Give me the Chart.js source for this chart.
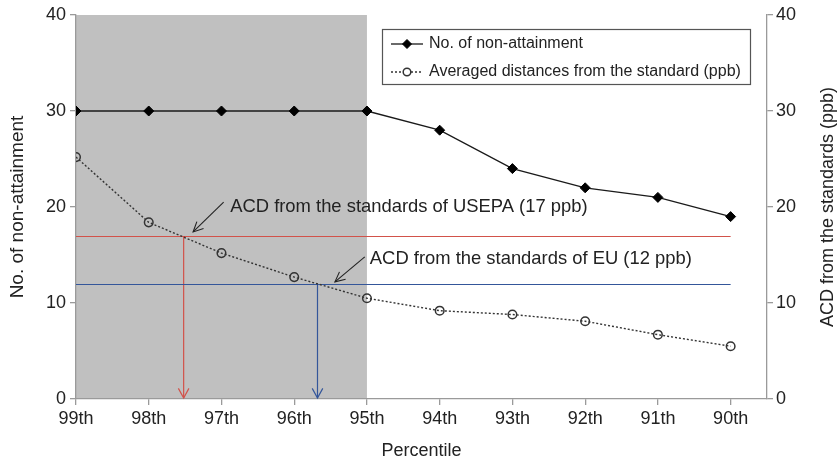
<!DOCTYPE html>
<html>
<head>
<meta charset="utf-8">
<script src="https://cdn.jsdelivr.net/npm/chart.js@4/dist/chart.umd.min.js"></script>
<style>
  html, body { margin: 0; padding: 0; background: #fff; }
  #wrap { width: 837px; height: 462px; }
</style>
</head>
<body>
<div id="wrap"><canvas id="c" width="837" height="462"></canvas></div>
<script>
// Percentile categories (left to right)
const percentiles = ['99th', '98th', '97th', '96th', '95th', '94th', '93th', '92th', '91th', '90th'];
// Number of non-attainment sites
const nonAttainment = [30, 30, 30, 30, 30, 28, 24, 22, 21, 19];
// Averaged concentration distance from the standard (ppb)
const avgDistance = [25.2, 18.4, 15.2, 12.7, 10.5, 9.2, 8.8, 8.1, 6.7, 5.5];
// Reference standards (ppb) and where the distance curve crosses them
const standardNames = ['USEPA', 'EU'];
const standardValues = [17, 12];
const standardCrossings = [1.48, 3.32];
const standardColors = ['#d2524a', '#34569a'];
// Shaded percentile range (index span)
const shadedRange = [0, 4];
// Axis ticks
const yTicks = [0, 10, 20, 30, 40];

const FONT = '"Liberation Sans", Arial, Helvetica, sans-serif';
const TEXT = '#222';
const AXIS = '#9a9a9a';

// Annotation callouts: text anchor and arrow from/to, in data units
const notes = [
  { text: 'ACD from the standards of USEPA (17 ppb)', tx: 2.12, ty: 20.0, ax: 2.03, ay: 20.5, bx: 1.61, by: 17.4 },
  { text: 'ACD from the standards of EU (12 ppb)',   tx: 4.04, ty: 14.6, ax: 3.97, ay: 14.8, bx: 3.56, by: 12.2 }
];

function openHead(ctx, x0, y0, x1, y1, len, spread) {
  const a = Math.atan2(y1 - y0, x1 - x0);
  ctx.beginPath();
  ctx.moveTo(x1 - len * Math.cos(a - spread), y1 - len * Math.sin(a - spread));
  ctx.lineTo(x1, y1);
  ctx.lineTo(x1 - len * Math.cos(a + spread), y1 - len * Math.sin(a + spread));
  ctx.stroke();
}

const decor = {
  id: 'decor',
  beforeDraw(chart) {
    const { ctx, chartArea: a, scales: { x } } = chart;
    ctx.save();
    ctx.fillStyle = '#c0c0c0';
    const x0 = x.getPixelForValue(shadedRange[0]);
    const x1 = x.getPixelForValue(shadedRange[1]);
    ctx.fillRect(x0, a.top, x1 - x0, a.bottom - a.top);
    ctx.restore();
  },
  beforeDatasetsDraw(chart) {
    const { ctx, chartArea: a, scales: { x, y1 } } = chart;
    ctx.save();
    ctx.lineWidth = 1.2;
    standardValues.forEach((v, i) => {
      const py = Math.round(y1.getPixelForValue(v)) + 0.5;
      const px = x.getPixelForValue(standardCrossings[i]);
      const pBottom = y1.getPixelForValue(0) - 1;
      ctx.strokeStyle = standardColors[i];
      ctx.beginPath();
      ctx.moveTo(a.left, py);
      ctx.lineTo(x.getPixelForValue(percentiles.length - 1), py);
      ctx.stroke();
      ctx.beginPath();
      ctx.moveTo(px, py);
      ctx.lineTo(px, pBottom);
      ctx.stroke();
      openHead(ctx, px, py, px, pBottom, 11, 0.5);
    });
    ctx.restore();
  },
  afterDatasetsDraw(chart) {
    const { ctx, scales: { x, y1 } } = chart;
    ctx.save();
    ctx.font = '18.4px ' + FONT;
    ctx.fillStyle = TEXT;
    ctx.textAlign = 'left';
    ctx.textBaseline = 'middle';
    ctx.strokeStyle = '#222';
    ctx.lineWidth = 1.1;
    notes.forEach(n => {
      ctx.fillText(n.text, x.getPixelForValue(n.tx), y1.getPixelForValue(n.ty));
      const ax = x.getPixelForValue(n.ax), ay = y1.getPixelForValue(n.ay);
      const bx = x.getPixelForValue(n.bx), by = y1.getPixelForValue(n.by);
      ctx.beginPath();
      ctx.moveTo(ax, ay);
      ctx.lineTo(bx, by);
      ctx.stroke();
      openHead(ctx, ax, ay, bx, by, 11, 0.45);
    });
    ctx.restore();
  },
  afterDraw(chart) {
    const { ctx, chartArea: a } = chart;
    ctx.save();
    // Right axis title, reading bottom to top
    ctx.font = '18px ' + FONT;
    ctx.fillStyle = TEXT;
    ctx.textAlign = 'center';
    ctx.textBaseline = 'middle';
    ctx.translate(828, (a.top + a.bottom) / 2);
    ctx.rotate(-Math.PI / 2);
    ctx.fillText('ACD from the standards (ppb)', 0, 0);
    ctx.restore();

    // Legend box
    ctx.save();
    const L = 382, T = 29, W = 368, H = 55;
    ctx.fillStyle = '#fff';
    ctx.fillRect(L, T, W, H);
    ctx.strokeStyle = '#555';
    ctx.lineWidth = 1.2;
    ctx.strokeRect(L + 0.5, T + 0.5, W, H);
    ctx.font = '16px ' + FONT;
    ctx.textBaseline = 'middle';
    const rows = chart.data.datasets;
    const rowY = [44, 72];
    rows.forEach((ds, i) => {
      const yy = rowY[i];
      ctx.save();
      ctx.strokeStyle = ds.borderColor;
      ctx.lineWidth = ds.borderWidth;
      ctx.setLineDash(ds.borderDash || []);
      ctx.beginPath();
      ctx.moveTo(391, yy);
      ctx.lineTo(423, yy);
      ctx.stroke();
      ctx.restore();
      ctx.save();
      ctx.fillStyle = i === 1 ? '#fff' : ds.pointBackgroundColor;
      ctx.strokeStyle = ds.pointBorderColor;
      ctx.lineWidth = ds.pointBorderWidth;
      Chart.helpers.drawPoint(ctx, {
        pointStyle: ds.pointStyle,
        radius: ds.pointRadius - 0.5,
        borderWidth: ds.pointBorderWidth
      }, 407, yy);
      ctx.restore();
      ctx.fillStyle = TEXT;
      ctx.fillText(ds.label, 429, yy);
    });
    ctx.restore();
  }
};

const chart = new Chart(document.getElementById('c'), {
  type: 'line',
  data: {
    datasets: [
      {
        label: 'No. of non-attainment',
        data: nonAttainment.map((v, i) => ({ x: i, y: v })),
        yAxisID: 'y',
        borderColor: '#1a1a1a',
        borderWidth: 1.3,
        pointStyle: 'rectRot',
        pointRadius: 5,
        pointBorderWidth: 1,
        pointBackgroundColor: '#000',
        pointBorderColor: '#000',
        tension: 0
      },
      {
        label: 'Averaged distances from the standard (ppb)',
        data: avgDistance.map((v, i) => ({ x: i, y: v })),
        yAxisID: 'y1',
        borderColor: '#333',
        borderWidth: 1.4,
        borderDash: [2, 2],
        pointStyle: 'circle',
        pointRadius: 4.3,
        pointBorderWidth: 1.5,
        pointBackgroundColor: 'rgba(0,0,0,0)',
        pointBorderColor: '#333',
        tension: 0
      }
    ]
  },
  options: {
    responsive: false,
    devicePixelRatio: 1,
    animation: false,
    layout: { padding: { top: 15, right: 0, bottom: 0, left: 0 } },
    plugins: { legend: { display: false }, tooltip: { enabled: false } },
    scales: {
      x: {
        type: 'linear',
        min: 0,
        max: percentiles.length - 0.5,
        afterFit(s) { s.height = 63; },
        border: { color: AXIS, width: 1.3 },
        grid: { drawOnChartArea: false, color: AXIS, tickLength: 6, lineWidth: 1.3 },
        ticks: {
          stepSize: 1,
          includeBounds: false,
          autoSkip: false,
          maxRotation: 0,
          padding: 3,
          color: TEXT,
          font: { family: FONT, size: 18 },
          callback: v => (Number.isInteger(v) && percentiles[v]) ? percentiles[v] : ''
        },
        title: {
          display: true,
          text: 'Percentile',
          color: TEXT,
          font: { family: FONT, size: 18 },
          padding: { top: 7, bottom: 0 }
        }
      },
      y: {
        position: 'left',
        min: 0,
        max: 40,
        afterFit(s) { s.width = 76; },
        afterBuildTicks(s) { s.ticks = yTicks.map(v => ({ value: v })); },
        border: { color: AXIS, width: 1.3 },
        grid: { drawOnChartArea: false, color: AXIS, tickLength: 6, lineWidth: 1.3 },
        ticks: { color: TEXT, padding: 4, font: { family: FONT, size: 18 } },
        title: {
          display: true,
          text: 'No. of non-attainment',
          color: TEXT,
          font: { family: FONT, size: 19 },
          padding: { top: 6, bottom: 0 }
        }
      },
      y1: {
        position: 'right',
        min: 0,
        max: 40,
        afterFit(s) { s.width = 70; },
        afterBuildTicks(s) { s.ticks = yTicks.map(v => ({ value: v })); },
        border: { color: AXIS, width: 1.3 },
        grid: { drawOnChartArea: false, color: AXIS, tickLength: 6, lineWidth: 1.3 },
        ticks: { color: TEXT, padding: 3, font: { family: FONT, size: 18 } }
      }
    }
  },
  plugins: [decor]
});
</script>
</body>
</html>
